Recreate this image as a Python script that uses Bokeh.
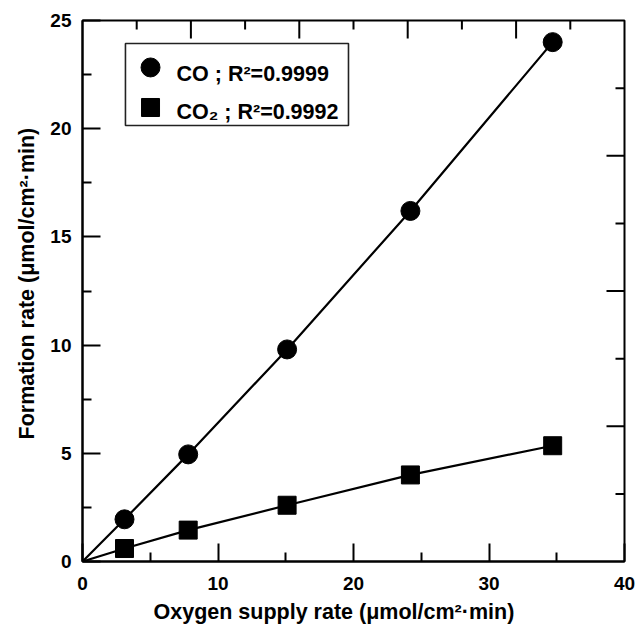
from bokeh.plotting import figure
from bokeh.models import Range1d, LinearAxis, FixedTicker, Title
from bokeh.embed import file_html
from bokeh.resources import INLINE
from bokeh.core.properties import value

# ---- data ----
O2_SUPPLY = [3.1, 7.8, 15.1, 24.2, 34.7]
CO_RATE = [1.95, 4.95, 9.8, 16.2, 24.0]
CO2_RATE = [0.6, 1.45, 2.6, 4.0, 5.35]

CO_LABEL = "CO ; R\u00b2=0.9999"
CO2_LABEL = "CO\u2082 ; R\u00b2=0.9992"
X_TITLE = "Oxygen supply rate (\u03bcmol/cm\u00b2\u00b7min)"
Y_TITLE = "Formation rate (\u03bcmol/cm\u00b2\u00b7min)"

X_MAJOR = [0, 10, 20, 30, 40]
X_MINOR = [5, 15, 25, 35]
Y_MAJOR = [0, 5, 10, 15, 20, 25]
Y_MINOR = [2.5, 7.5, 12.5, 17.5, 22.5]
TOP_MAJOR = [8, 16, 24, 32]
TOP_MINOR = [4, 12, 20, 28, 36]
RIGHT_MAJOR = [6.25, 12.5, 18.75]
RIGHT_MINOR = [3.125, 9.375, 15.625, 21.875]

X_MAX, Y_MAX = 40, 25
FONT = "Liberation Sans"
FRAME_W, FRAME_H = 542, 541
MAJ_LEN, MIN_LEN = 18, 9  # tick lengths in px

p = figure(frame_width=FRAME_W, frame_height=FRAME_H,
           x_range=Range1d(0, X_MAX), y_range=Range1d(0, Y_MAX),
           output_backend="svg", toolbar_location=None,
           min_border_left=82, min_border_top=20, min_border_bottom=64,
           min_border_right=12, x_axis_location=None, y_axis_location=None)
p.outline_line_color = "black"
p.outline_line_width = 2
p.xgrid.visible = False
p.ygrid.visible = False
p.background_fill_color = "white"
p.border_fill_color = "white"


def style_axis(ax, standoff):
    ax.axis_line_color = "black"
    ax.axis_line_width = 2
    ax.major_tick_line_color = "black"
    ax.major_tick_line_width = 2
    ax.minor_tick_line_color = "black"
    ax.minor_tick_line_width = 2
    ax.major_tick_in = MAJ_LEN
    ax.major_tick_out = 0
    ax.minor_tick_in = MIN_LEN
    ax.minor_tick_out = 0
    ax.major_label_text_font = FONT
    ax.major_label_text_font_style = "bold"
    ax.major_label_text_color = "black"
    ax.major_label_text_font_size = "19px"
    ax.major_label_standoff = standoff


xb = LinearAxis(ticker=FixedTicker(ticks=X_MAJOR, minor_ticks=X_MINOR))
style_axis(xb, 15)
p.add_layout(xb, "below")

yl = LinearAxis(ticker=FixedTicker(ticks=Y_MAJOR, minor_ticks=Y_MINOR))
style_axis(yl, 11)
p.add_layout(yl, "left")

# ---- unlabeled mirror ticks on the top and right edges ----
xu = X_MAX / FRAME_W  # data units per px along x
yu = Y_MAX / FRAME_H  # data units per px along y
p.segment(x0=TOP_MAJOR, x1=TOP_MAJOR, y0=[Y_MAX] * len(TOP_MAJOR),
          y1=[Y_MAX - MAJ_LEN * yu] * len(TOP_MAJOR), line_color="black", line_width=2)
p.segment(x0=TOP_MINOR, x1=TOP_MINOR, y0=[Y_MAX] * len(TOP_MINOR),
          y1=[Y_MAX - MIN_LEN * yu] * len(TOP_MINOR), line_color="black", line_width=2)
p.segment(x0=[X_MAX] * len(RIGHT_MAJOR), x1=[X_MAX - MAJ_LEN * xu] * len(RIGHT_MAJOR),
          y0=RIGHT_MAJOR, y1=RIGHT_MAJOR, line_color="black", line_width=2)
p.segment(x0=[X_MAX] * len(RIGHT_MINOR), x1=[X_MAX - MIN_LEN * xu] * len(RIGHT_MINOR),
          y0=RIGHT_MINOR, y1=RIGHT_MINOR, line_color="black", line_width=2)

# ---- series ----
p.line([0] + O2_SUPPLY, [0] + CO_RATE, line_color="black", line_width=2.2)
p.line([0] + O2_SUPPLY, [0] + CO2_RATE, line_color="black", line_width=2.2)
p.scatter(O2_SUPPLY, CO_RATE, marker="circle", size=19,
          fill_color="black", line_color="black")
p.scatter(O2_SUPPLY, CO2_RATE, marker="square", size=18,
          fill_color="black", line_color="black")

# ---- legend (drawn by hand so its markers can be full size) ----
LEG_LEFT, LEG_RIGHT, LEG_BOTTOM, LEG_TOP = 3.17, 19.63, 20.15, 23.94
LEG_MARK_X = 5.02
LEG_ROW_Y = [22.83, 20.98]
LEG_TEXT_X = 6.94
LEG_TEXT_Y = [22.54, 20.76]

p.quad(left=[LEG_LEFT], right=[LEG_RIGHT], bottom=[LEG_BOTTOM], top=[LEG_TOP],
       fill_color="white", line_color="#222222", line_width=1.6)
p.scatter([LEG_MARK_X], [LEG_ROW_Y[0]], marker="circle", size=19,
          fill_color="black", line_color="black")
p.scatter([LEG_MARK_X], [LEG_ROW_Y[1]], marker="square", size=18,
          fill_color="black", line_color="black")
p.text(x=[LEG_TEXT_X, LEG_TEXT_X], y=LEG_TEXT_Y, text=[CO_LABEL, CO2_LABEL],
       text_font=value(FONT), text_font_style="bold", text_font_size="21.5px",
       text_color="black", text_align="left", text_baseline="alphabetic")

# ---- axis titles ----
p.add_layout(Title(text=X_TITLE, align="left", offset=71,
                   text_font=FONT, text_font_style="bold", text_font_size="21.5px",
                   text_color="black"), "below")
p.add_layout(Title(text=Y_TITLE, align="left", offset=122, standoff=18,
                   text_font=FONT, text_font_style="bold", text_font_size="21.5px",
                   text_color="black"), "left")

open("out.html", "w").write(file_html(p, INLINE))
